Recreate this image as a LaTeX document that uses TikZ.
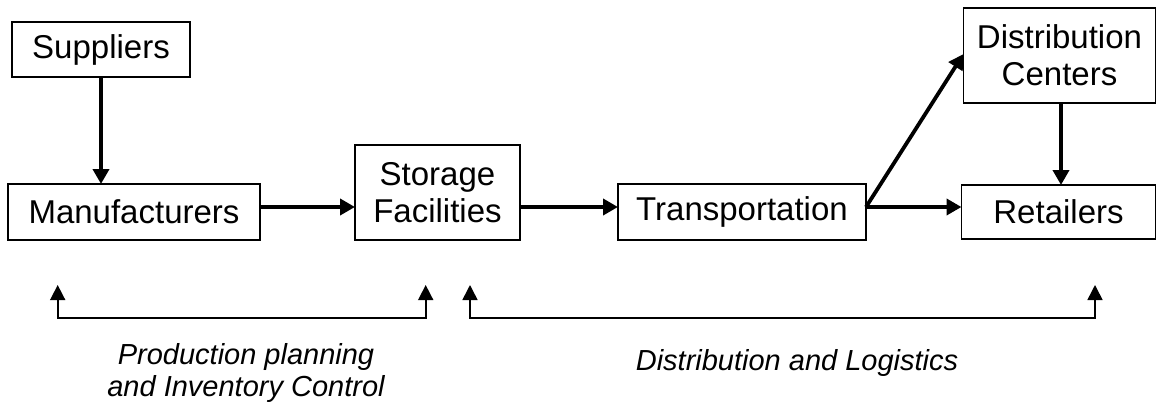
\documentclass[tikz,border=0pt]{standalone}
\usepackage{fontspec}
\setmainfont{Liberation Sans}
\usetikzlibrary{arrows.meta}
\begin{document}
\begin{tikzpicture}[x=1pt,y=-1pt,
  box/.style={draw=black,line width=1.3pt,inner sep=0pt,outer sep=0pt,align=center,
    font=\fontsize{33}{37}\selectfont},
  arr/.style={line width=3.8pt,-{Triangle[length=15pt,width=16pt]}},
  brk/.style={line width=1.6pt,{Triangle[length=15pt,width=15pt]}-{Triangle[length=15pt,width=15pt]}},
  lbl/.style={align=center,font=\fontsize{29}{32}\selectfont\itshape}]
\useasboundingbox (0,0) rectangle (1157,407);
\node[box,minimum width=178pt,minimum height=55pt] (sup) at (101,49.5) {Suppliers};
\node[box,minimum width=252pt,minimum height=56pt] (man) at (134,212) {Manufacturers};
\node[box,minimum width=165pt,minimum height=95pt] (sto) at (437.5,192.5) {Storage\\Facilities};
\node[box,minimum width=248pt,minimum height=56pt] (tra) at (742,212) {Transportation};
\node[box,minimum width=192pt,minimum height=95pt] (dc) at (1059.5,55.5) {Distribution\\Centers};
\node[box,minimum width=194pt,minimum height=54pt] (ret) at (1058.5,212) {Retailers};
\coordinate (t0) at (tra.east |- 0,207);
\draw[arr] (sup.south) -- (man.north -| sup.south);
\draw[arr] (man.east |- 0,207) -- (sto.west |- 0,207);
\draw[arr] (sto.east |- 0,207) -- (tra.west |- 0,207);
\draw[arr] (t0) -- (ret.west |- t0);
\draw[arr] (t0) -- (dc.west |- 0,54);
\draw[arr] (dc.south -| 1061,0) -- (ret.north -| 1061,0);
\coordinate (a1) at (57.7,285);
\coordinate (a2) at (425.7,285);
\coordinate (a3) at (470,285);
\coordinate (a4) at (1095,285);
\draw[brk] (a1) -- ++(0,33) -| (a2);
\draw[brk] (a3) -- ++(0,33) -| (a4);
\node[lbl] (l1) at (246,373) {Production planning\\and Inventory Control};
\node[lbl] (l2) at (797,363) {Distribution and Logistics};
\end{tikzpicture}
\end{document}
